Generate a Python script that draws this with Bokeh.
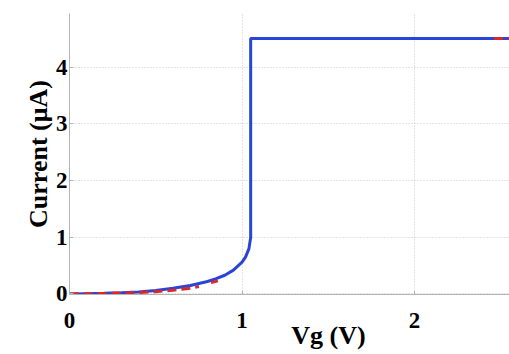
import numpy as np
from bokeh.plotting import figure
from bokeh.embed import file_html
from bokeh.resources import INLINE
from bokeh.models import Range1d, FixedTicker

# Measured (blue) curve
vg_meas = [0.0, 0.1, 0.2, 0.3, 0.4, 0.5, 0.6, 0.7, 0.8, 0.85, 0.9, 0.95, 1.0, 1.02, 1.04, 1.05, 1.05, 2.6]
i_meas = [0.0, 0.005, 0.01, 0.02, 0.035, 0.06, 0.1, 0.15, 0.22, 0.27, 0.33, 0.42, 0.56, 0.65, 0.8, 1.0, 4.51, 4.51]

# Model (red dashed) curve, with breaks
vg_model = [0.0, 0.1, 0.2, 0.3, 0.4, 0.5, 0.6, 0.7, 0.75, np.nan, 0.82, 0.86, np.nan, 2.46, 2.6]
i_model = [0.0, 0.003, 0.008, 0.015, 0.025, 0.04, 0.065, 0.1, 0.13, np.nan, 0.2, 0.23, np.nan, 4.51, 4.51]

x_ticks = [0, 1, 2]
y_ticks = [0, 1, 2, 3, 4]
x_title = "Vg (V)"
y_title = "Current (\u03bcA)"

p = figure(width=509, height=354, output_backend="svg", toolbar_location=None,
           x_range=Range1d(0, 2.55), y_range=Range1d(-0.01, 4.95),
           min_border_left=69, min_border_top=13, min_border_right=0, min_border_bottom=60)
p.outline_line_color = None
p.background_fill_color = "white"

p.line(vg_meas, i_meas, line_color="#2a45d6", line_width=3)
p.line(vg_model, i_model, line_color="#d8282c", line_width=3, line_dash="9 5")

font = "Liberation Serif"
for ax in (p.xaxis[0], p.yaxis[0]):
    ax.major_label_text_font = font
    ax.major_label_text_font_style = "bold"
    ax.major_label_text_font_size = "23px"
    ax.major_label_text_color = "black"
    ax.axis_label_text_font = font
    ax.axis_label_text_font_style = "bold"
    ax.axis_label_text_font_size = "26px"
    ax.axis_label_text_color = "black"
    ax.axis_line_color = "#b4b4b4"
    ax.major_tick_line_color = "#b4b4b4"
    ax.major_tick_in = 4
    ax.major_tick_out = 0
    ax.minor_tick_line_color = None

p.xaxis.major_label_standoff = 18
p.xaxis.axis_label_standoff = -10
p.yaxis.major_label_standoff = 2
p.yaxis.axis_label_standoff = 0

p.xaxis.ticker = FixedTicker(ticks=x_ticks)
p.yaxis.ticker = FixedTicker(ticks=y_ticks)
# leading no-break spaces shift the centred title right, as in the cropped original
p.xaxis.axis_label = "\u00a0" * 12 + x_title
p.yaxis.axis_label = y_title

p.grid.grid_line_color = "#c8c8c8"
p.grid.grid_line_dash = "1 2"
p.grid.grid_line_width = 1

open("out.html", "w").write(file_html(p, INLINE))
